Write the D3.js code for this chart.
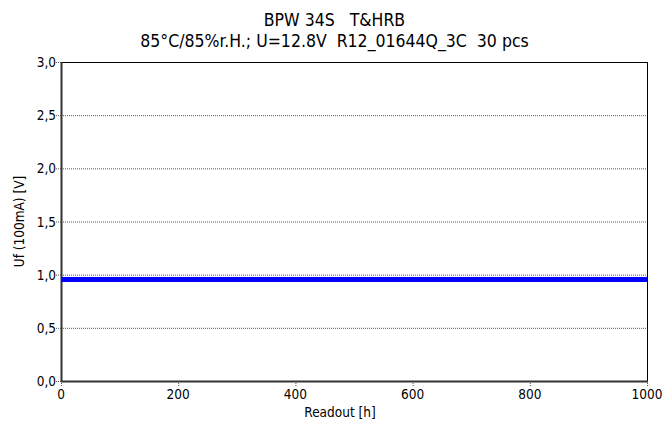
<!DOCTYPE html>
<html>
<head>
<meta charset="utf-8">
<script src="https://d3js.org/d3.v7.min.js"></script>
<style>
  body { margin: 0; background: #fff; }
  text { font-family: "DejaVu Sans Condensed", "DejaVu Sans", Verdana, sans-serif; fill: #000; }
</style>
</head>
<body>
<div id="chart"></div>
<script>
var titleLines = ["BPW 34S   T&HRB", "85°C/85%r.H.; U=12.8V  R12_01644Q_3C  30 pcs"];
var xTicks = [0, 200, 400, 600, 800, 1000];
var yTicks = [0, 0.5, 1.0, 1.5, 2.0, 2.5, 3.0];
var readouts = [0, 168, 500, 1000];
var uf = [0.955, 0.955, 0.955, 0.955];

var width = 669, height = 423;
var margin = {left: 61, right: 22, top: 62, bottom: 42};

var svg = d3.select("#chart").append("svg")
    .attr("width", width)
    .attr("height", height);

var x = d3.scaleLinear().domain([0, 1000]).range([margin.left, width - margin.right]);
var y = d3.scaleLinear().domain([0, 3]).range([height - margin.bottom, margin.top]);

var fmt = function(d) { return d3.format(".1f")(d).replace(".", ","); };

// grid
svg.append("g")
    .selectAll("line")
    .data(yTicks.filter(function(d) { return d > 0 && d < 3; }))
    .enter()
    .append("line")
    .attr("x1", x(0))
    .attr("x2", x(1000))
    .attr("y1", function(d) { return y(d) + 0.5; })
    .attr("y2", function(d) { return y(d) + 0.5; })
    .attr("stroke", "#555")
    .attr("stroke-width", 1)
    .attr("stroke-dasharray", "1,1");

// y ticks
var yAxis = svg.append("g").attr("class", "yaxis");
yAxis.selectAll("line")
    .data(yTicks)
    .enter()
    .append("line")
    .attr("x1", x(0) - 5)
    .attr("x2", x(0))
    .attr("y1", function(d) { return y(d) + 0.5; })
    .attr("y2", function(d) { return y(d) + 0.5; })
    .attr("stroke", "#555")
    .attr("stroke-dasharray", "1,1");
yAxis.selectAll("text")
    .data(yTicks)
    .enter()
    .append("text")
    .attr("x", x(0) - 5)
    .attr("y", function(d) { return y(d) + 5; })
    .style("text-anchor", "end")
    .style("font-size", "13.5px")
    .text(fmt);

// x ticks
var xAxis = svg.append("g").attr("class", "xaxis");
xAxis.selectAll("line")
    .data(xTicks)
    .enter()
    .append("line")
    .attr("x1", function(d) { return x(d) + 0.5; })
    .attr("x2", function(d) { return x(d) + 0.5; })
    .attr("y1", y(0))
    .attr("y2", y(0) + 5)
    .attr("stroke", "#555")
    .attr("stroke-dasharray", "1,1");
xAxis.selectAll("text")
    .data(xTicks)
    .enter()
    .append("text")
    .attr("x", function(d) { return x(d); })
    .attr("y", y(0) + 18)
    .style("text-anchor", "middle")
    .style("font-size", "13.5px")
    .text(function(d) { return d; });

// frame
svg.append("rect")
    .attr("x", x(0) + 0.5)
    .attr("y", y(3) + 0.5)
    .attr("width", x(1000) - x(0))
    .attr("height", y(0) - y(3))
    .attr("fill", "none")
    .attr("stroke", "#000")
    .attr("stroke-width", 1);
svg.append("line")
    .attr("x1", x(0) + 0.5).attr("x2", x(0) + 0.5)
    .attr("y1", y(3)).attr("y2", y(0) + 1)
    .attr("stroke", "#333").attr("stroke-width", 2);
svg.append("line")
    .attr("x1", x(0)).attr("x2", x(1000) + 1)
    .attr("y1", y(0) + 0.5).attr("y2", y(0) + 0.5)
    .attr("stroke", "#333").attr("stroke-width", 2);

// series
var line = d3.line()
    .x(function(d, i) { return x(readouts[i]); })
    .y(function(d) { return y(d); });
svg.append("path")
    .datum(uf)
    .attr("d", line)
    .attr("fill", "none")
    .attr("stroke", "#0000ff")
    .attr("stroke-width", 5);

// titles
svg.append("g")
    .selectAll("text")
    .data(titleLines)
    .enter()
    .append("text")
    .attr("x", width / 2)
    .attr("y", function(d, i) { return 26 + i * 21; })
    .style("text-anchor", "middle")
    .style("font-size", "17.5px")
    .style("white-space", "pre")
    .attr("xml:space", "preserve")
    .text(function(d) { return d; });

svg.append("text")
    .attr("x", 340)
    .attr("y", 417)
    .style("text-anchor", "middle")
    .style("font-size", "13.5px")
    .text("Readout [h]");

svg.append("text")
    .attr("transform", "translate(24," + ((y(0) + y(3)) / 2) + ") rotate(-90)")
    .style("text-anchor", "middle")
    .style("font-size", "13.5px")
    .text("Uf (100mA) [V]");
</script>
</body>
</html>
